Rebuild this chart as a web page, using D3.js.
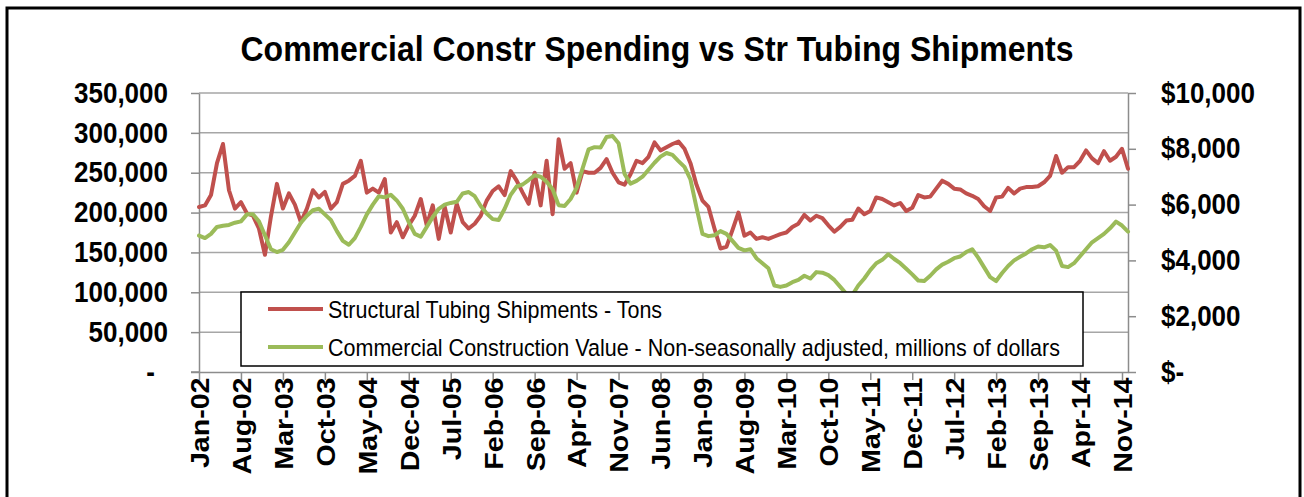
<!DOCTYPE html>
<html><head><meta charset="utf-8">
<script src="https://cdn.jsdelivr.net/npm/d3@7"></script>
<style>
body{margin:0;background:#fff}
svg{display:block}
text{font-family:"Liberation Sans",Arial,sans-serif}
</style>
</head><body>
<svg id="chart" width="1304" height="497"></svg>
<script>
// ---------- DATA ----------
const monthNames = ["Jan","Feb","Mar","Apr","May","Jun","Jul","Aug","Sep","Oct","Nov","Dec"];
const years = ["02","03","04","05","06","07","08","09","10","11","12","13","14"];
const categories = [];
years.forEach(y => monthNames.forEach(m => categories.push(m + "-" + y)));

// Structural Tubing Shipments - Tons
const tubingTons = [
207000,209000,222000,262000,286000,228000,205000,213000,199000,196000,
180000,147000,195000,236000,205000,224000,210000,188000,205000,228000,
219000,226000,205000,213000,236000,240000,246000,265000,225000,230000,
225000,242000,175000,188000,169000,184000,196000,217000,184000,209000,
167000,207000,175000,211000,188000,180000,186000,196000,215000,227000,
233000,222000,252000,240000,225000,211000,250000,209000,265000,198000,
292000,255000,262000,225000,252000,250000,250000,256000,267000,250000,
238000,235000,248000,265000,262000,270000,288000,278000,282000,286000,
289000,280000,262000,235000,215000,207000,180000,155000,157000,178000,
200000,171000,175000,167000,169000,167000,170000,173000,175000,182000,
186000,197000,190000,196000,193000,184000,176000,182000,190000,191000,
205000,198000,202000,219000,217000,213000,209000,212000,202000,206000,
222000,219000,220000,230000,240000,236000,230000,229000,224000,221000,
217000,208000,202000,219000,220000,231000,224000,230000,232000,232000,
233000,238000,246000,271000,250000,257000,257000,265000,278000,268000,
262000,277000,265000,270000,280000,255000];

// Commercial Construction Value - millions of dollars
const constructionValue = [
4890,4800,4950,5200,5240,5270,5350,5400,5650,5650,
5400,4900,4400,4300,4380,4650,5000,5350,5600,5800,
5850,5650,5450,5050,4700,4560,4800,5200,5650,6000,
6300,6260,6350,6150,5850,5370,4950,4850,5200,5550,
5850,6000,6060,6100,6400,6450,6300,5950,5680,5480,
5450,5850,6350,6650,6720,6880,7050,7000,6820,6550,
5980,5950,6200,6600,7300,7980,8060,8050,8420,8460,
8200,7100,6750,6850,7000,7250,7500,7720,7850,7780,
7560,7350,6900,5900,4950,4870,4900,5050,4950,4700,
4450,4360,4400,4080,3900,3720,3100,3050,3100,3220,
3300,3450,3350,3580,3560,3470,3300,3050,2800,2760,
3100,3350,3650,3900,4020,4220,4050,3900,3700,3500,
3280,3260,3450,3680,3850,3950,4080,4140,4300,4400,
4100,3750,3400,3260,3550,3800,4000,4130,4250,4400,
4500,4470,4550,4350,3800,3760,3900,4150,4400,4650,
4800,4950,5150,5390,5250,5030];

const leftTicks = [0,50000,100000,150000,200000,250000,300000,350000];
const rightTicks = [0,2000,4000,6000,8000,10000];
const xTickLabels = ["Jan-02","Aug-02","Mar-03","Oct-03","May-04","Dec-04","Jul-05","Feb-06",
  "Sep-06","Apr-07","Nov-07","Jun-08","Jan-09","Aug-09","Mar-10","Oct-10","May-11","Dec-11",
  "Jul-12","Feb-13","Sep-13","Apr-14","Nov-14"];
const seriesNames = ["Structural Tubing Shipments - Tons",
  "Commercial Construction Value - Non-seasonally adjusted, millions of dollars"];
const titleText = "Commercial Constr Spending vs Str Tubing Shipments";

// ---------- LAYOUT ----------
const L = 199, R = 1128, T = 93, B = 372;
const SY = 1.1; // vertical glyph stretch seen in the reference
const red = "#C0504D", green = "#9BBB59", gridCol = "#A6A6A6", axisCol = "#8C8C8C";
const svg = d3.select("#chart");
svg.append("rect").attr("width",1304).attr("height",497).attr("fill","#fff");
svg.append("rect").attr("x",7).attr("y",8).attr("width",1293).attr("height",600)
  .attr("fill","none").attr("stroke","#000").attr("stroke-width",3);

const x = d3.scalePoint().domain(categories).range([L, R]);
const yL = d3.scaleLinear().domain([0,350000]).range([B, T]);
const yR = d3.scaleLinear().domain([0,10000]).range([B, T]);

// title
svg.append("text").attr("transform",`translate(657,61) scale(1,${SY})`).attr("text-anchor","middle")
  .style("font-size","32px").style("font-weight","bold").text(titleText);

// gridlines
svg.append("g").selectAll("line").data(leftTicks.filter(d=>d>0)).join("line")
  .attr("x1",L).attr("x2",R).attr("y1",d=>yL(d)).attr("y2",d=>yL(d))
  .attr("stroke",gridCol).attr("stroke-width",1.5);

// left axis
const gl = svg.append("g").attr("transform",`translate(${L},0)`)
  .call(d3.axisLeft(yL).tickValues(leftTicks).tickSize(8).tickSizeOuter(0).tickPadding(23)
    .tickFormat(d => d===0 ? "-" : d3.format(",")(d)));
// right axis
const gr = svg.append("g").attr("transform",`translate(${R},0)`)
  .call(d3.axisRight(yR).tickValues(rightTicks).tickSize(8).tickSizeOuter(0).tickPadding(25)
    .tickFormat(d => d===0 ? "$-" : "$" + d3.format(",")(d)));
// bottom axis
const tickCats = xTickLabels.map(lbl => categories[categories.indexOf(lbl)]);
const gb = svg.append("g").attr("transform",`translate(0,${B})`)
  .call(d3.axisBottom(x).tickValues(tickCats).tickSize(8).tickSizeOuter(0));

[gl,gr,gb].forEach(g => {
  g.selectAll("path").attr("stroke",axisCol).attr("stroke-width",1.5);
  g.selectAll("line").attr("stroke",axisCol).attr("stroke-width",1.5);
  g.selectAll("text").style("font-size","26px").style("font-weight","bold")
    .style("font-family",'"Liberation Sans",Arial,sans-serif').attr("fill","#000");
});
gl.selectAll("text").attr("transform",`scale(1,${SY})`);
gr.selectAll("text").attr("transform",`scale(1,${SY})`);
gl.selectAll(".tick").filter(d=>d===0).select("text").attr("x",-44);
gb.selectAll("text").attr("transform",`scale(1,${SY}) rotate(-90)`).attr("x",-5).attr("y",0)
  .attr("dy","0.36em").style("text-anchor","end");
// extend bottom axis line to left tick
svg.append("line").attr("x1",L-8).attr("x2",L).attr("y1",B).attr("y2",B)
  .attr("stroke",axisCol).attr("stroke-width",1.5);

// series
const lineL = d3.line().x((d,i)=>x(categories[i])).y(d=>yL(d));
const lineR = d3.line().x((d,i)=>x(categories[i])).y(d=>yR(d));
svg.append("path").datum(tubingTons).attr("d",lineL).attr("fill","none")
  .attr("stroke",red).attr("stroke-width",4).attr("stroke-linejoin","round").attr("stroke-linecap","round");
svg.append("path").datum(constructionValue).attr("d",lineR).attr("fill","none")
  .attr("stroke",green).attr("stroke-width",4).attr("stroke-linejoin","round").attr("stroke-linecap","round");

// legend
const lg = svg.append("g");
lg.append("rect").attr("x",241).attr("y",292).attr("width",842).attr("height",74)
  .attr("fill","#fff").attr("stroke","#000").attr("stroke-width",1.5);
const legendRows = [{name:seriesNames[0],color:red,y:309},{name:seriesNames[1],color:green,y:347}];
legendRows.forEach(r => {
  lg.append("line").attr("x1",268).attr("x2",323).attr("y1",r.y).attr("y2",r.y)
    .attr("stroke",r.color).attr("stroke-width",4);
  lg.append("text").attr("transform",`translate(328,${r.y}) scale(1,${SY})`).attr("dy","0.36em")
    .style("font-size","21.5px").attr("fill","#000").text(r.name);
});
</script>
</body></html>
